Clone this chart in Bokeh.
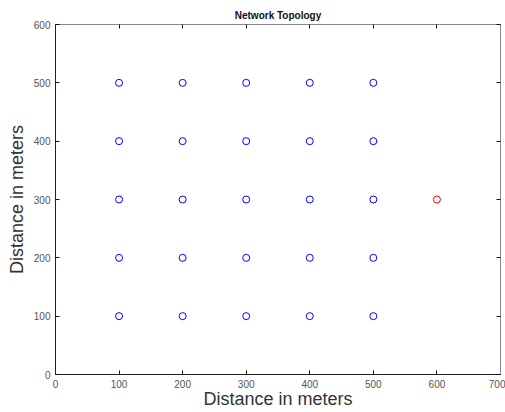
from bokeh.plotting import figure
from bokeh.models import Range1d, LinearAxis, FixedTicker, ColumnDataSource
from bokeh.embed import file_html
from bokeh.resources import INLINE

# ---- data ----
node_x = [100, 200, 300, 400, 500,
          100, 200, 300, 400, 500,
          100, 200, 300, 400, 500,
          100, 200, 300, 400, 500,
          100, 200, 300, 400, 500]
node_y = [100, 100, 100, 100, 100,
          200, 200, 200, 200, 200,
          300, 300, 300, 300, 300,
          400, 400, 400, 400, 400,
          500, 500, 500, 500, 500]
sink_x = [600]
sink_y = [300]
x_ticks = [0, 100, 200, 300, 400, 500, 600, 700]
y_ticks = [0, 100, 200, 300, 400, 500, 600]
title_text = "Network Topology"
x_label = "Distance in meters"
y_label = "Distance in meters"

FONT = "Liberation Sans"

p = figure(width=505, height=412, output_backend="svg", toolbar_location=None,
           x_range=Range1d(0, 700), y_range=Range1d(0, 600),
           min_border_left=55, min_border_right=5, min_border_top=24,
           min_border_bottom=38, x_axis_location=None, y_axis_location=None)
p.title.text = title_text
p.title.align = "center"
p.title.text_font = FONT
p.title.text_font_size = "10px"
p.title.text_font_style = "bold"
p.title.text_color = "#111111"
p.title.standoff = 8
p.grid.visible = False
p.outline_line_color = "#888888"
p.background_fill_color = "white"
p.border_fill_color = "white"

def make_axis(ticks, show_labels, color, label=None):
    ax = LinearAxis(ticker=FixedTicker(ticks=ticks))
    ax.major_tick_in = 4
    ax.major_tick_out = 0
    ax.minor_tick_line_color = None
    ax.major_tick_line_color = "#111111"
    ax.axis_line_color = color
    if show_labels:
        ax.major_label_text_font = FONT
        ax.major_label_text_font_size = "10px"
        ax.major_label_text_color = "#555555"
        ax.major_label_standoff = 5
    else:
        ax.major_label_text_font_size = "0px"
        ax.major_label_text_color = None
        ax.major_label_standoff = 0
    if label:
        ax.axis_label = label
        ax.axis_label_text_font = FONT
        ax.axis_label_text_font_size = "18px"
        ax.axis_label_text_font_style = "normal"
        ax.axis_label_text_color = "#333333"
    return ax

xb = make_axis(x_ticks, True, "#222222", x_label)
xb.axis_label_standoff = -2
p.add_layout(xb, "below")
yl = make_axis(y_ticks, True, "#222222", y_label)
yl.axis_label_standoff = 4
p.add_layout(yl, "left")
p.add_layout(make_axis(x_ticks, False, "#888888"), "above")
p.add_layout(make_axis(y_ticks, False, "#888888"), "right")

nodes = ColumnDataSource(dict(x=node_x, y=node_y))
sink = ColumnDataSource(dict(x=sink_x, y=sink_y))
p.scatter("x", "y", source=nodes, marker="circle", size=7,
          fill_color=None, line_color="#0000ff", line_width=1)
p.scatter("x", "y", source=sink, marker="circle", size=7,
          fill_color=None, line_color="#ff0000", line_width=1)

open("out.html", "w").write(file_html(p, INLINE))
